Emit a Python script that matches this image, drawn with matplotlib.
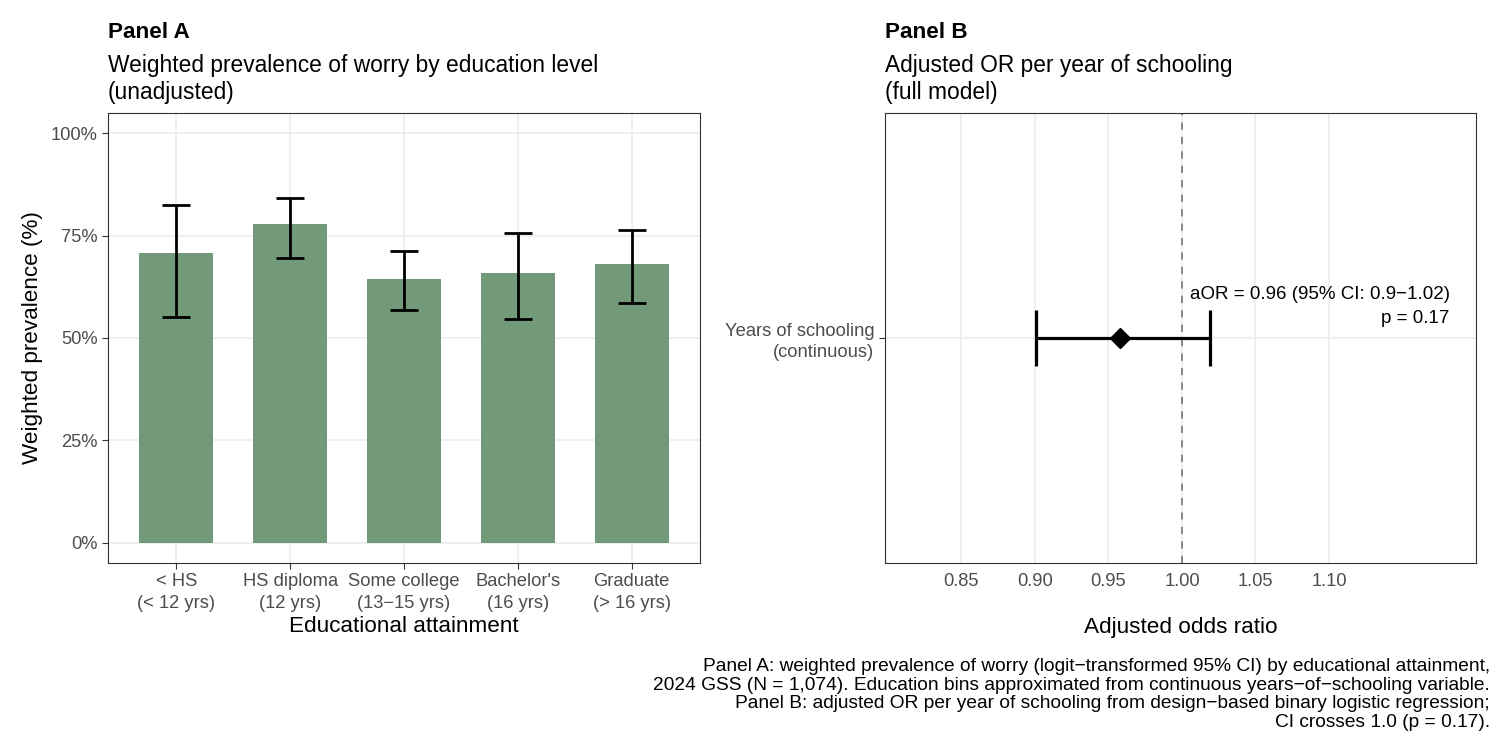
import matplotlib
import matplotlib.pyplot as plt
import numpy as np

matplotlib.use('Agg')

plt.rcParams['font.family'] = ['Liberation Sans', 'DejaVu Sans']

# panel A data: weighted prevalence with 95% CI
edu_labels = ['< HS\n(< 12 yrs)', 'HS diploma\n(12 yrs)', 'Some college\n(13\u221215 yrs)',
              "Bachelor's\n(16 yrs)", 'Graduate\n(> 16 yrs)']
prevalence = [0.707, 0.778, 0.644, 0.658, 0.682]
ci_low = [0.552, 0.696, 0.569, 0.546, 0.586]
ci_high = [0.826, 0.842, 0.713, 0.756, 0.764]

# panel B data: adjusted odds ratio
or_label = 'Years of schooling\n(continuous)'
aor = 0.958
aor_low = 0.901
aor_high = 1.019
or_breaks = [0.85, 0.90, 0.95, 1.00, 1.05, 1.10]
p_value = 0.17

caption = ("Panel A: weighted prevalence of worry (logit\u2212transformed 95% CI) by educational attainment,\n"
           "2024 GSS (N = 1,074). Education bins approximated from continuous years\u2212of\u2212schooling variable.\n"
           "Panel B: adjusted OR per year of schooling from design\u2212based binary logistic regression;\n"
           "CI crosses 1.0 (p = 0.17).")

GRID = '#EBEBEB'
FRAME = '#333333'
TICKTXT = '#4D4D4D'
BAR = '#729A79'


def style_axes(ax):
    for s in ax.spines.values():
        s.set_color(FRAME)
        s.set_linewidth(0.8)
    ax.set_axisbelow(True)
    ax.tick_params(colors=FRAME, labelcolor=TICKTXT, labelsize=13.2, length=4, width=0.8, pad=3.5)


fig = plt.figure(figsize=(15, 7.5), dpi=100)

# ---- Panel A
ax1 = fig.add_axes([108 / 1500, 1 - 563 / 750, 592 / 1500, 450 / 750])
style_axes(ax1)
x = np.arange(1, len(prevalence) + 1)
ax1.bar(x, prevalence, width=0.65, color=BAR, zorder=2)
yerr = [np.array(prevalence) - np.array(ci_low), np.array(ci_high) - np.array(prevalence)]
ax1.errorbar(x, prevalence, yerr=yerr, fmt='none', ecolor='black', elinewidth=2,
             capsize=10, capthick=2, zorder=3)
ax1.set_xlim(0.4, len(prevalence) + 0.6)
ax1.set_ylim(-0.05, 1.05)
ax1.set_yticks([0, 0.25, 0.5, 0.75, 1.0])
ax1.set_yticklabels(['0%', '25%', '50%', '75%', '100%'])
ax1.set_xticks(x)
ax1.set_xticklabels(edu_labels, linespacing=1.35)
ax1.grid(True, color=GRID, linewidth=1.1)
ax1.set_xlabel('Educational attainment', fontsize=16.2)
ax1.xaxis.set_label_coords(0.5, -(627 - 563) / 450)
ax1.xaxis.label.set_va('center')
ax1.set_ylabel('Weighted prevalence (%)', fontsize=16.2)
ax1.yaxis.set_label_coords((33 - 108) / 592, 0.5)
ax1.yaxis.label.set_va('center')

fig.text(108 / 1500, 1 - 32 / 750, 'Panel A', fontsize=16.2, fontweight='bold', va='center')
fig.text(108 / 1500, 1 - 54 / 750, 'Weighted prevalence of worry by education level\n(unadjusted)',
         fontsize=16.4, va='top', linespacing=1.22)

# ---- Panel B
ax2 = fig.add_axes([885 / 1500, 1 - 563 / 750, 591 / 1500, 450 / 750])
style_axes(ax2)
ax2.axvline(1.0, color='#808080', linestyle=(0, (4, 4)), linewidth=1.3, zorder=2)
ax2.errorbar([aor], [1], xerr=[[aor - aor_low], [aor_high - aor]], fmt='D', color='black',
             markersize=10, elinewidth=2.3, capsize=20, capthick=2.3, zorder=3)
ax2.set_xlim(0.798, 1.2)
ax2.set_ylim(0.4, 1.6)
ax2.set_xticks(or_breaks)
ax2.set_xticklabels(['%.2f' % b for b in or_breaks])
ax2.tick_params(axis='x', length=0, pad=7.5)
ax2.set_yticks([1])
ax2.set_yticklabels([or_label], linespacing=1.3)
ax2.grid(True, color=GRID, linewidth=1.1)
ax2.text(1.182, 1 + (338 - 286) / 375,
         'aOR = %.2f (95%% CI: %.1f\u2212%.2f)\np = %.2f' % (0.96, 0.9, 1.02, p_value),
         ha='right', va='top', fontsize=13.5, multialignment='right', linespacing=1.5, zorder=4)
ax2.set_xlabel('Adjusted odds ratio', fontsize=16.2)
ax2.xaxis.set_label_coords(0.5, -(627 - 563) / 450)
ax2.xaxis.label.set_va('center')

fig.text(885 / 1500, 1 - 32 / 750, 'Panel B', fontsize=16.2, fontweight='bold', va='center')
fig.text(885 / 1500, 1 - 54 / 750, 'Adjusted OR per year of schooling\n(full model)',
         fontsize=16.4, va='top', linespacing=1.22)

fig.text(1490 / 1500, 1 - 658 / 750, caption, fontsize=13.75, ha='right', va='top',
         linespacing=1.12, multialignment='right')

fig.savefig('out.png', dpi=100, facecolor='white')
